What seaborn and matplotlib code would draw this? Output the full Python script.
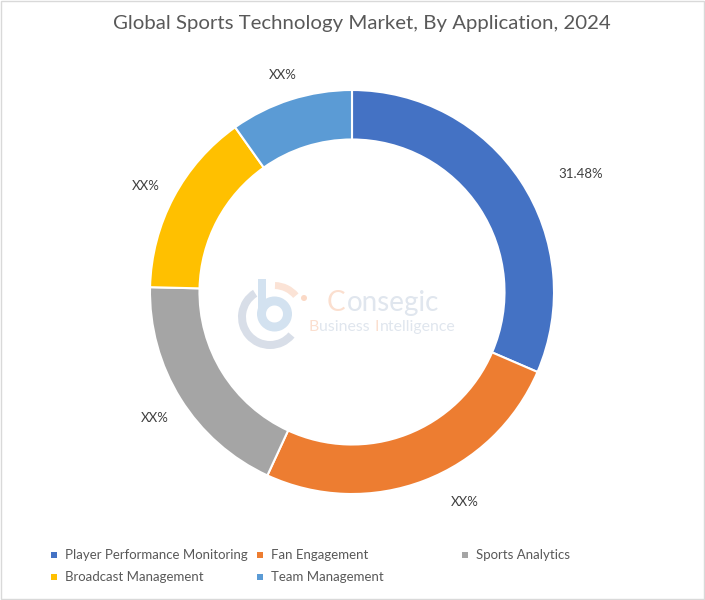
import matplotlib
matplotlib.use("Agg")
import matplotlib.pyplot as plt
from matplotlib.patches import Rectangle, Wedge, Circle
import seaborn as sns

categories = ["Player Performance Monitoring", "Fan Engagement", "Sports Analytics",
              "Broadcast Management", "Team Management"]
values = [31.48, 25.4, 18.5, 14.8, 9.82]
labels = ["31.48%", "XX%", "XX%", "XX%", "XX%"]
colors = ["#4472C4", "#ED7D31", "#A5A5A5", "#FFC000", "#5B9BD5"]
title = "Global Sports Technology Market, By Application, 2024"

sns.set_theme(style="white")
plt.rcParams['font.family'] = ['Lato', 'DejaVu Sans']

W, H = 705, 600
fig = plt.figure(figsize=(W/100, H/100), dpi=100, facecolor="white")
cx, cy, R = 352, 292, 202
ax = fig.add_axes([(cx-R)/W, 1-(cy+R)/H, 2*R/W, 2*R/H])
wedges, _ = ax.pie(values, colors=colors, startangle=90, counterclock=False, radius=1,
                   wedgeprops=dict(width=0.245, edgecolor="white", linewidth=1.5))
ax.set_xlim(-1, 1); ax.set_ylim(-1, 1)
ax.set_aspect("equal")

bg = fig.add_axes([0, 0, 1, 1], facecolor="none", zorder=5)
bg.set_xlim(0, W); bg.set_ylim(H, 0); bg.axis("off")
bg.add_patch(Rectangle((0.5, 0.5), W-2, H-2, fill=False, edgecolor="#D9D9D9", lw=1))

bg.text(361.5, 24, title, ha="center", va="center", fontsize=14.7, color="#595959")

label_pos = [(581, 174), (465, 502), (155, 418), (146, 186), (283, 75)]
for (x, y), t in zip(label_pos, labels):
    bg.text(x, y, t, ha="center", va="center", fontsize=9.5, color="#404040")

legend_pos = [(51, 555), (257, 555), (462, 555), (51, 577), (257, 577)]
for (x, y), c, name in zip(legend_pos, colors, categories):
    bg.add_patch(Rectangle((x, y-3.5), 6, 6, facecolor=c, edgecolor="none"))
    bg.text(x+14, y, name, ha="left", va="center", fontsize=9.55, color="#595959")

# watermark logo (y axis of this overlay is inverted, so angles are mirrored)
bg.add_patch(Wedge((270, 317), 32, 40, 238, width=8, facecolor="#D8DEE8", edgecolor="none"))
bg.add_patch(Wedge((274.5, 314), 17.5, 0, 360, width=9, facecolor="#D3E2F0", edgecolor="none"))
bg.add_patch(Rectangle((258, 279), 8, 35, facecolor="#D3E2F0", edgecolor="none"))
bg.add_patch(Wedge((274, 314), 32, 272, 320, width=7, facecolor="#FBE3D6", edgecolor="none"))
bg.add_patch(Circle((304, 298), 3, facecolor="#FBD9C6", edgecolor="none"))


def run(x, y, parts, size):
    renderer = fig.canvas.get_renderer()
    for s, col in parts:
        t = bg.text(x, y, s, ha="left", va="center", fontsize=size, color=col)
        x += t.get_window_extent(renderer).width + size * 0.08


run(327, 303, [("C", "#FBDFCF"), ("onsegic", "#E0E6EE")], 20)
run(308, 327, [("B", "#FBDFCF"), ("usiness ", "#E0E6EE"), ("I", "#FBDFCF"), ("ntelligence", "#E0E6EE")], 11.4)

fig.savefig("out.png", dpi=100)
